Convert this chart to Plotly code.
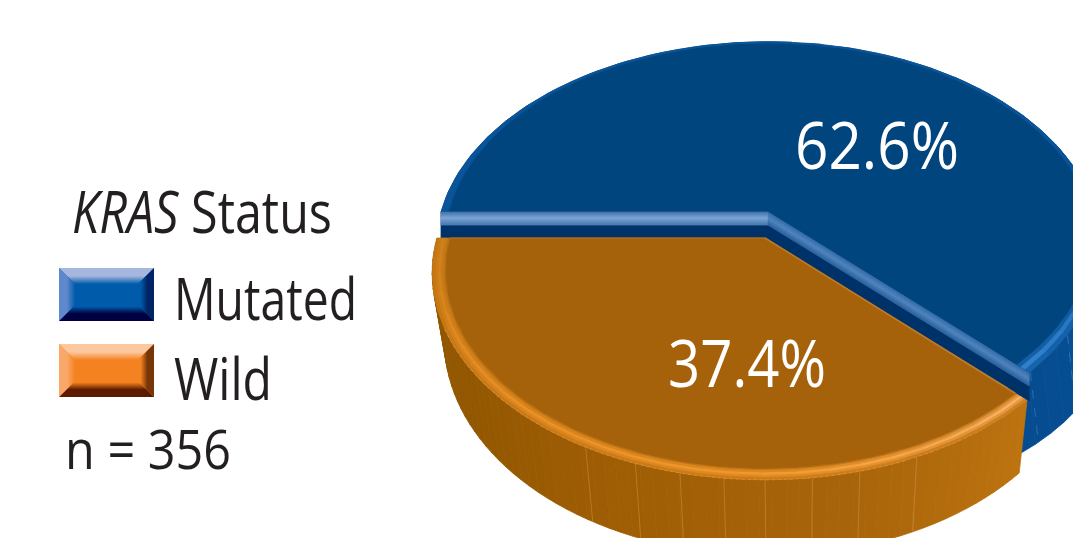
import math
import plotly.graph_objects as go

# Survey result: KRAS status split
categories = ["Mutated", "Wild"]
shares = [62.6, 37.4]
sample_size = 356

W, H = 1073, 538
K = 0.169  # foreshortening of the disc, far side smaller than near side

# Projected discs: centre x, centre y, x radius, y radius
BLUE_TOP = (768, 212, 327, 199)
BLUE_BOT = (772, 304, 332, 172)
ORANGE_TOP = (765, 238, 328, 201)
ORANGE_BOT = (766, 304, 317, 209)

# The wild slice runs counter-clockwise from the left of the disc
a_start = 180.0
a_split = a_start + shares[1] * 3.6
a_wrap = a_start + 360.0

SEAMS_WILD = [242.3, 250.6, 257.5, 264, 270, 276.9, 284, 293]
SEAMS_MUT = [a_split + 0.3, 326]


def pt(d, ang, r=1.0):
    a = math.radians(ang)
    u, v = r * math.cos(a), r * math.sin(a)
    s = 1 / (1 + K * v)
    return d[0] + d[2] * u * s, d[1] - d[3] * v * s


def arc(d, a0, a1, r=1.0, step=2.0):
    n = max(2, int(abs(a1 - a0) / step) + 1)
    return [pt(d, a0 + (a1 - a0) * i / (n - 1), r(a0 + (a1 - a0) * i / (n - 1)) if callable(r) else r)
            for i in range(n)]


def mix(stops, t):
    t = max(0.0, min(1.0, t))
    n = len(stops) - 1
    i = min(int(t * n), n - 1)
    f = t * n - i
    return tuple(stops[i][j] + (stops[i + 1][j] - stops[i][j]) * f for j in range(3))


def rgb(c):
    return "rgb(%d,%d,%d)" % tuple(round(x) for x in c)


def lerp(stops, t):
    return rgb(mix(stops, t))


fig = go.Figure()


def poly(points, color, line=None, width=0.8):
    fig.add_trace(go.Scatter(
        x=[p[0] for p in points] + [points[0][0]],
        y=[p[1] for p in points] + [points[0][1]],
        mode="lines", fill="toself", fillcolor=color,
        line=dict(color=line or color, width=width),
        hoverinfo="skip", showlegend=False))


def seg(p, q, color, width=1.0, dash="solid"):
    fig.add_trace(go.Scatter(
        x=[p[0], q[0]], y=[p[1], q[1]], mode="lines",
        line=dict(color=color, width=width, dash=dash),
        hoverinfo="skip", showlegend=False))


def wall(top, bot, a0, a1, stops, step=3.0):
    n = math.ceil((a1 - a0) / step)
    for i in range(n):
        b0 = a0 + (a1 - a0) * i / n
        b1 = a0 + (a1 - a0) * (i + 1) / n
        poly([pt(top, b0), pt(top, b1), pt(bot, b1), pt(bot, b0)],
             lerp(stops, i / n))


def rim(d, a0, a1, inner, shade, rings=5, step=5.0):
    n = max(1, int(round((a1 - a0) / step)))
    for j in range(rings):
        for i in range(n):
            b0 = a0 + (a1 - a0) * i / n
            b1 = a0 + (a1 - a0) * (i + 1) / n
            r00 = inner(b0) + (1 - inner(b0)) * j / rings
            r01 = inner(b1) + (1 - inner(b1)) * j / rings
            r10 = inner(b0) + (1 - inner(b0)) * (j + 1) / rings
            r11 = inner(b1) + (1 - inner(b1)) * (j + 1) / rings
            poly([pt(d, b0, r10), pt(d, b1, r11), pt(d, b1, r01), pt(d, b0, r00)],
                 shade((b0 + b1) / 2, (j + 0.5) / rings))


# Mutated slice: outer wall (continues behind the wild slice), top face, rim
wall(BLUE_TOP, BLUE_BOT, a_split - 24, 385,
     [(3, 74, 140), (6, 78, 146), (11, 84, 156), (12, 88, 160)], step=4)
for a in SEAMS_MUT:
    seg(pt(BLUE_TOP, a), pt(BLUE_BOT, a), "rgba(120,170,225,0.35)", 1, "dash")


def blue_inner(a):
    # Rim is broad on the near side and thin round the back
    if a < 375:
        return 0.955 + 0.03 * (a - a_split) / (375 - a_split)
    if a > 500:
        return 0.985 - 0.012 * (a - 500) / 40
    return 0.985


def blue_rim(a, t):
    near = max(0.0, min(1.0, (372 - a) / (372 - a_split)))
    peak = mix([(10, 86, 154), (50, 130, 208)], near)
    return lerp([(6, 78, 142), peak, (10, 84, 156)], t)


poly(arc(BLUE_TOP, a_split, a_wrap) + [pt(BLUE_TOP, 0, 0)], "rgb(0,69,126)")
rim(BLUE_TOP, a_split, a_wrap, blue_inner, blue_rim, rings=3, step=6)
poly(arc(BLUE_TOP, a_split, a_wrap, blue_inner) + [pt(BLUE_TOP, 0, 0)], "rgb(0,69,126)")

# Cut faces between the two slices
bL, bA, bC = pt(BLUE_TOP, a_wrap), pt(BLUE_TOP, 0, 0), pt(BLUE_TOP, a_split)
oL, oA, oC = pt(ORANGE_TOP, a_start), pt(ORANGE_TOP, 0, 0), pt(ORANGE_TOP, a_split)
poly([bL, bA, bC, (bC[0], oC[1]), oA, (bL[0], oL[1])], "rgb(0,50,106)")

BAND = 13
left_band = [(64, 112, 170), (124, 166, 214), (72, 122, 178)]
diag_band = [(52, 108, 168), (82, 135, 192), (46, 100, 160)]
for i in range(BAND):
    t0, t1 = i, i + 1
    tc = (i + 0.5) / BAND
    poly([(bL[0], bL[1] + t0), (bA[0], bA[1] + t0), (bA[0], bA[1] + t1), (bL[0], bL[1] + t1)],
         lerp(left_band, tc))
    poly([(bA[0], bA[1] + t0), (bC[0], bC[1] + t0), (bC[0], bC[1] + t1), (bA[0], bA[1] + t1)],
         lerp(diag_band, tc))

# Wild slice: outer wall, seams, rim and top face
wall(ORANGE_TOP, ORANGE_BOT, a_start, a_split,
     [(146, 87, 0), (146, 87, 0), (160, 94, 4), (168, 100, 10), (190, 116, 16)], step=2)
for a in SEAMS_WILD:
    seg(pt(ORANGE_TOP, a), pt(ORANGE_BOT, a), "rgba(235,175,110,0.33)", 1)


def orange_inner(a):
    return 0.96


def orange_rim(a, t):
    f = (a - a_start) / (a_split - a_start)
    peak = mix([(205, 128, 28), (232, 142, 34), (242, 152, 44), (255, 180, 98)], f)
    return lerp([(186, 110, 14), peak, (196, 116, 16)], t)


rim(ORANGE_TOP, a_start, a_split, orange_inner, orange_rim, rings=5, step=5)
poly(arc(ORANGE_TOP, a_start, a_split, 0.96) + [oA], "rgb(165,98,10)")
seg(pt(ORANGE_TOP, a_start, 0.96), oA, "rgb(184,116,30)", 1.2)
seg(oA, pt(ORANGE_TOP, a_split, 0.96), "rgb(190,122,36)", 1.6)
rim_line = arc(ORANGE_TOP, 205, a_split - 10, 1.0)
fig.add_trace(go.Scatter(
    x=[p[0] for p in rim_line], y=[p[1] for p in rim_line], mode="lines",
    line=dict(color="rgba(235,175,110,0.45)", width=0.8, dash="dot"),
    hoverinfo="skip", showlegend=False))

# Bevelled legend swatches
SW_X0, SW_X1 = 59, 154
SWATCHES = {
    "Mutated": dict(y0=268, y1=321, mid=(0, 92, 170), top=(166, 182, 222),
                    left=(96, 136, 204), right=(0, 36, 100), bottom=(0, 0, 64)),
    "Wild": dict(y0=344, y1=397, mid=(245, 130, 32), top=(252, 200, 160),
                 left=(250, 168, 106), right=(120, 54, 8), bottom=(92, 26, 0)),
}
SIDE_FADE = dict(top=1.0, left=1.0, right=1.2, bottom=1.1)
shapes = []
BEVEL = 16
for name in categories:
    sw = SWATCHES[name]
    x0, x1, y0, y1 = SW_X0, SW_X1, sw["y0"], sw["y1"]
    shapes.append(dict(type="rect", x0=x0, x1=x1, y0=y0, y1=y1,
                       fillcolor=rgb(sw["mid"]), line_width=0))
    for i in range(BEVEL):
        a, b = i, i + 1
        strips = [
            ("top", [(x0 + a, y0 + a), (x1 - a, y0 + a), (x1 - b, y0 + b), (x0 + b, y0 + b)]),
            ("bottom", [(x0 + a, y1 - a), (x1 - a, y1 - a), (x1 - b, y1 - b), (x0 + b, y1 - b)]),
            ("left", [(x0 + a, y0 + a), (x0 + b, y0 + b), (x0 + b, y1 - b), (x0 + a, y1 - a)]),
            ("right", [(x1 - a, y0 + a), (x1 - b, y0 + b), (x1 - b, y1 - b), (x1 - a, y1 - a)]),
        ]
        for side, pts in strips:
            path = "M" + " L".join("%g,%g" % p for p in pts) + " Z"
            g = min(1, (i + 0.5) / BEVEL * SIDE_FADE[side])
            shapes.append(dict(type="path", path=path, line_width=0,
                               fillcolor=lerp([sw[side], sw[side], sw["mid"]], g)))

# Text, set in a condensed cut: each label is squeezed to its own width
DARK = "#231F20"
FONT = "Open Sans"
notes = [
    dict(x=71, y=210, text="<i>KRAS</i> Status", size=58, color=DARK, width=260),
    dict(x=173, y=297, text=categories[0], size=58, color=DARK, width=183),
    dict(x=173, y=377, text=categories[1], size=58, color=DARK, width=98),
    dict(x=64, y=448, text="n = %d" % sample_size, size=54, color=DARK, width=166),
    dict(x=794, y=143, text="%.1f%%" % shares[0], size=66, color="white", width=164),
    dict(x=667, y=361, text="%.1f%%" % shares[1], size=66, color="white", width=158),
]
annotations = [
    dict(x=n["x"], y=n["y"], xref="x", yref="y", text=n["text"], showarrow=False,
         xanchor="left", yanchor="middle", borderpad=0,
         font=dict(family=FONT, size=n["size"], color=n["color"]))
    for n in notes
]

fig.update_layout(
    width=W, height=H, margin=dict(l=0, r=0, t=0, b=0),
    paper_bgcolor="white", plot_bgcolor="white", showlegend=False,
    xaxis=dict(range=[0, W], visible=False, fixedrange=True),
    yaxis=dict(range=[H, 0], visible=False, fixedrange=True),
    shapes=shapes, annotations=annotations,
)

widths = [n["width"] for n in notes]
condense = """
var widths = %s;
document.querySelectorAll('.annotation-text').forEach(function (t, i) {
  var b = t.getBBox();
  var s = widths[i] / b.width;
  t.setAttribute('transform', 'translate(' + b.x * (1 - s) + ',0) scale(' + s + ',1)');
});
""" % widths
fig.write_html("out.html", config=dict(displayModeBar=False), post_script=condense)
